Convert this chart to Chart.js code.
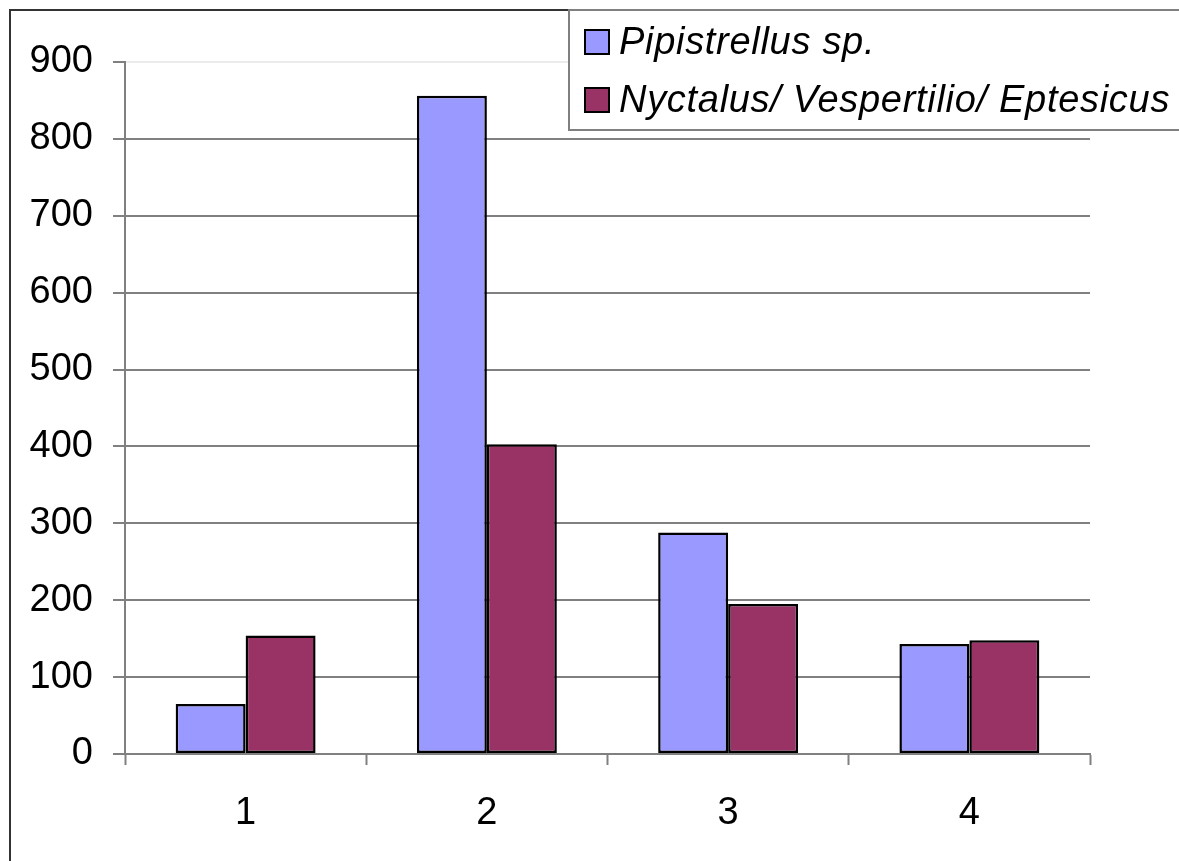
<!DOCTYPE html>
<html>
<head>
<meta charset="utf-8">
<script src="https://cdn.jsdelivr.net/npm/chart.js@4.4.1/dist/chart.umd.min.js"></script>
<style>
  html, body { margin: 0; padding: 0; background: #ffffff; }
  #wrap { width: 1179px; height: 861px; position: relative; }
</style>
</head>
<body>
<div id="wrap"><canvas id="c" width="1179" height="861"></canvas></div>
<script>
// Survey groups and recorded bat passes per genus group
const categories = ['1', '2', '3', '4'];
const pipistrellus = [65, 856, 288, 143];
const nyctalusGroup = [154, 403, 195, 148];
const seriesNames = ['Pipistrellus sp.', 'Nyctalus/ Vespertilio/ Eptesicus'];
const yTicks = [0, 100, 200, 300, 400, 500, 600, 700, 800, 900];

const FONT = 'Liberation Sans, Arial, sans-serif';
const AXIS_GREY = '#808080';

// Outer frame and boxed legend, drawn from the dataset definitions
const framePlugin = {
  id: 'frameAndLegend',
  beforeDraw(chart) {
    const ctx = chart.ctx;
    ctx.save();
    ctx.fillStyle = '#ffffff';
    ctx.fillRect(0, 0, chart.width, chart.height);
    ctx.restore();
  },
  afterDraw(chart) {
    const ctx = chart.ctx;
    ctx.save();
    // outer chart frame (left and top edges are inside the view)
    ctx.strokeStyle = '#333333';
    ctx.lineWidth = 2;
    ctx.beginPath();
    ctx.moveTo(10, chart.height + 5);
    ctx.lineTo(10, 10);
    ctx.lineTo(chart.width + 5, 10);
    ctx.stroke();

    // legend box
    const bx = 569, by = 10, bh = 120;
    ctx.fillStyle = '#ffffff';
    ctx.fillRect(bx, by, chart.width - bx + 5, bh);
    ctx.strokeStyle = AXIS_GREY;
    ctx.lineWidth = 2;
    ctx.strokeRect(bx, by, chart.width - bx + 5, bh);

    const rowY = [42, 100];
    chart.data.datasets.forEach((ds, i) => {
      const y = rowY[i];
      ctx.fillStyle = ds.backgroundColor;
      ctx.fillRect(585, y - 12, 24, 24);
      ctx.strokeStyle = '#000000';
      ctx.lineWidth = 2;
      ctx.strokeRect(585, y - 12, 24, 24);
      ctx.fillStyle = '#000000';
      ctx.font = 'italic 38px ' + FONT;
      ctx.letterSpacing = '0.7px';
      ctx.textBaseline = 'middle';
      ctx.textAlign = 'left';
      ctx.fillText(ds.label, 619, y + 1);
      ctx.letterSpacing = '0px';
    });
    ctx.restore();
  }
};

new Chart(document.getElementById('c'), {
  type: 'bar',
  data: {
    labels: categories,
    datasets: [
      {
        label: seriesNames[0],
        data: pipistrellus,
        backgroundColor: '#9999ff',
        borderColor: '#000000',
        borderWidth: 2.5,
        borderSkipped: false
      },
      {
        label: seriesNames[1],
        data: nyctalusGroup,
        backgroundColor: '#993366',
        borderColor: '#000000',
        borderWidth: 2.5,
        borderSkipped: false
      }
    ]
  },
  options: {
    responsive: false,
    animation: false,
    devicePixelRatio: 1,
    categoryPercentage: 0.58,
    barPercentage: 1.0,
    layout: { padding: { left: 0, top: 62, right: 89, bottom: 0 } },
    plugins: {
      legend: { display: false },
      tooltip: { enabled: false }
    },
    scales: {
      x: {
        type: 'category',
        offset: true,
        grid: {
          offset: true,
          drawOnChartArea: false,
          drawTicks: true,
          tickLength: 11,
          tickColor: AXIS_GREY,
          tickWidth: 2
        },
        border: { display: true, color: AXIS_GREY, width: 2 },
        ticks: {
          color: '#000000',
          font: { family: FONT, size: 38 },
          padding: 26
        },
        afterFit(scale) { scale.height = 861 - 62 - 692; }
      },
      y: {
        min: 0,
        max: 900,
        afterBuildTicks(scale) { scale.ticks = yTicks.map(v => ({ value: v })); },
        grid: {
          color: ctx => (ctx.tick && ctx.tick.value === 900) ? '#ececec' : AXIS_GREY,
          lineWidth: 2,
          drawTicks: true,
          tickLength: 12,
          tickColor: AXIS_GREY,
          tickWidth: 2
        },
        border: { display: true, color: AXIS_GREY, width: 2 },
        ticks: {
          color: '#000000',
          font: { family: FONT, size: 38 },
          padding: 20
        },
        afterFit(scale) { scale.width = 125; }
      }
    }
  },
  plugins: [framePlugin]
});
</script>
</body>
</html>
